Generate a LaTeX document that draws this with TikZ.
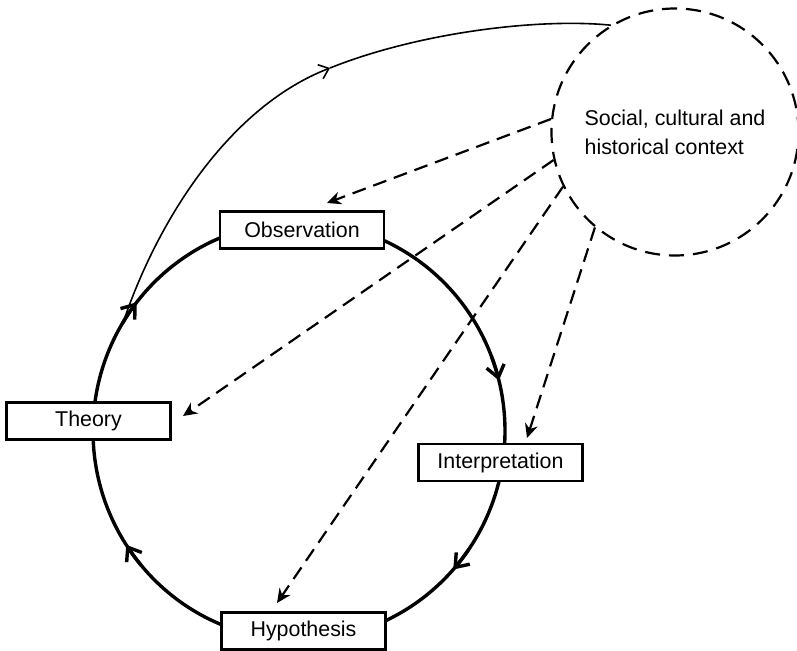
\documentclass[tikz,border=0pt]{standalone}
\usepackage{fontspec}
\setmainfont{Liberation Sans}
\usetikzlibrary{arrows.meta}
\begin{document}
\begin{tikzpicture}[x=0.5pt,y=-0.5pt,
  box/.style={draw, line width=1.1pt, fill=white, minimum width=82pt, minimum height=18.5pt, inner sep=0pt, font=\fontsize{10.7}{13}\selectfont},
  cyc/.style={line width=1.7pt},
  barb/.style={-{Straight Barb[length=6pt,width=9pt]}},
  thinline/.style={line width=0.8pt},
  dsh/.style={line width=1.1pt, dash pattern=on 7pt off 4pt, -{Stealth[length=7pt,width=6.5pt]}},
]
\useasboundingbox (0,0) rectangle (797,651);
% main cycle
\coordinate (cyc) at (299,431);
\draw[cyc] (cyc) ellipse [x radius=206, y radius=209];
\foreach \a in {-14,41.5,147,218}
  \draw[cyc,barb] ({299+206*cos(\a-7)},{431+209*sin(\a-7)}) arc[start angle=\a-7, end angle=\a, x radius=206, y radius=209];
% boxes
\node[box] (obs) at (302,230) {Observation};
\node[box] (theo) at (88.5,421) {Theory};
\node[box] (interp) at (500.5,462.5) {Interpretation};
\node[box] (hyp) at (303.5,631) {Hypothesis};
% context circle
\node[circle, draw, line width=1.1pt, dash pattern=on 7.5pt off 4.5pt, minimum size=123.5pt, inner sep=0pt,
      align=left, font=\fontsize{10.7}{14.5}\selectfont] (ctx) at (675,132)
      {Social, cultural and\\historical context};
% thin feedback curve
\coordinate (fstart) at (124,320);
\coordinate (fmid) at (330,68);
\draw[thinline, -{Straight Barb[length=4.5pt,width=7.5pt]}] (fstart) .. controls (160,215) and (232,106) .. (fmid);
\draw[thinline] (fmid) .. controls (420,32) and (540,18) .. (ctx.121.6);
% dashed influences
\coordinate (t1) at (327,203);
\coordinate (t2) at (183,416);
\coordinate (t3) at (277,603);
\coordinate (t4) at (527,438);
\draw[dsh] (ctx.174) -- (t1);
\draw[dsh] (ctx.193) -- (t2);
\draw[dsh] (ctx.206) -- (t3);
\draw[dsh] (ctx.230) -- (t4);
\end{tikzpicture}
\end{document}
